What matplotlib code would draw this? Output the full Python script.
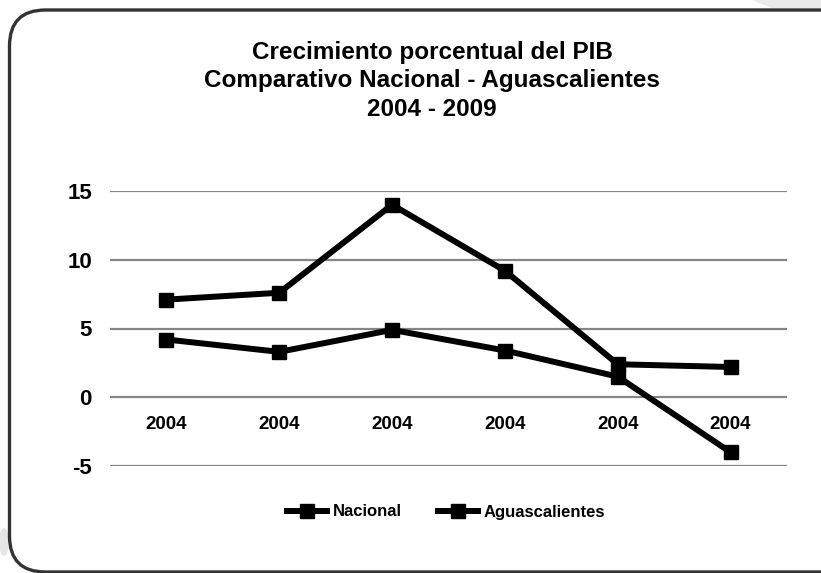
import matplotlib
matplotlib.use("Agg")
import matplotlib.pyplot as plt
from matplotlib.patches import FancyBboxPatch, Polygon, Ellipse

plt.rcParams['font.family'] = ['Liberation Sans', 'DejaVu Sans']
plt.rcParams['font.weight'] = 'bold'

# ---- data ----
categories = ["2004", "2004", "2004", "2004", "2004", "2004"]
nacional = [4.2, 3.3, 4.9, 3.4, 1.5, -4.0]
aguascalientes = [7.1, 7.6, 14.0, 9.2, 2.4, 2.2]
series_names = ["Nacional", "Aguascalientes"]
y_ticks = [-5, 0, 5, 10, 15]
y_tick_labels = ["-5", "0", "5", "10", "15"]
title_lines = ["Crecimiento porcentual del PIB",
               "Comparativo Nacional - Aguascalientes",
               "2004 - 2009"]

W, H = 821, 573
fig = plt.figure(figsize=(W / 100, H / 100), dpi=100)
fig.patch.set_facecolor("white")

# page shading in the top-right corner and bottom-left
fig.patches.append(Polygon([(752 / W, 1.0), (821 / W, 1.0), (821 / W, 1 - 8 / H), (772 / W, 1 - 8 / H)],
                           closed=True, transform=fig.transFigure, facecolor="#ebebeb",
                           edgecolor="none", zorder=0))
fig.patches.append(Ellipse((4 / W, 1 - 542 / H), 10 / W, 28 / H, transform=fig.transFigure,
                           facecolor="#e6e6e6", edgecolor="none", zorder=0))

# rounded frame
frame = FancyBboxPatch((0.095, 0.01), 9.5, 5.62,
                       boxstyle="round,pad=0,rounding_size=0.36",
                       transform=fig.dpi_scale_trans, facecolor="white",
                       edgecolor="#333333", linewidth=2.4, zorder=1)
fig.patches.append(frame)

# title
title_y = [53, 81, 110]
for line, yy in zip(title_lines, title_y):
    fig.text(432 / W, 1 - yy / H, line, ha="center", va="center",
             fontsize=17.5, fontweight="bold", color="black", zorder=3)

# axes
left, right, top, bottom = 110, 787, 191, 466
ax = fig.add_axes([left / W, 1 - bottom / H, (right - left) / W, (bottom - top) / H])
ax.set_facecolor("none")
ax.set_zorder(2)
x = list(range(len(categories)))
ax.set_xlim(-0.5, len(categories) - 0.5)
ax.set_ylim(-5, 15)

for v in y_ticks:
    ax.axhline(v, color="#858585", linewidth=1.6, zorder=1)

ax.plot(x, nacional, color="black", linewidth=4.3, marker="s", markersize=10,
        solid_joinstyle="miter", label=series_names[0], zorder=3)
ax.plot(x, aguascalientes, color="black", linewidth=4.3, marker="s", markersize=10,
        solid_joinstyle="miter", label=series_names[1], zorder=3)

for s in ax.spines.values():
    s.set_visible(False)
ax.set_xticks([])
ax.set_yticks(y_ticks)
ax.set_yticklabels(y_tick_labels, fontsize=16, fontweight="bold")
ax.tick_params(axis="y", length=0, pad=13)

for xi, lab in zip(x, categories):
    ax.text(xi, -1.95, lab, ha="center", va="center", fontsize=13.5,
            fontweight="bold", color="black")

leg = ax.legend(loc="center", bbox_to_anchor=(446 / W, 1 - 512 / H),
                bbox_transform=fig.transFigure, ncol=2, frameon=False,
                fontsize=12, handlelength=2.4, handletextpad=0.3,
                columnspacing=2.2, markerscale=1.0)
for t in leg.get_texts():
    t.set_fontweight("bold")

fig.savefig("out.png", dpi=100, facecolor="white")
